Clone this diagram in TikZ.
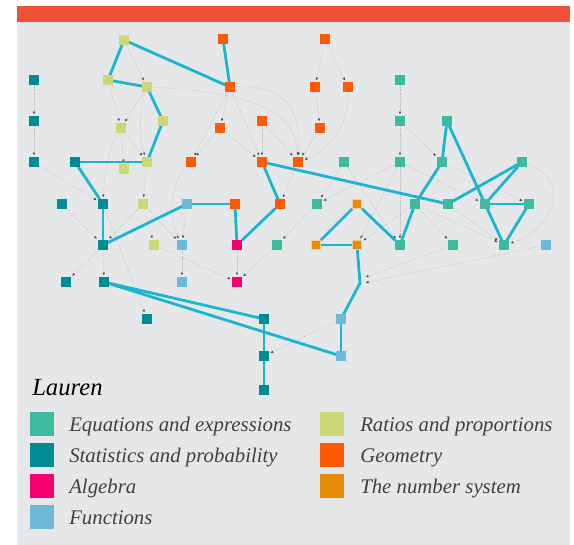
\documentclass[tikz,border=0pt]{standalone}
\usepackage{fontspec}
\setmainfont{Liberation Serif}
\usetikzlibrary{arrows.meta}

\definecolor{bgGrey}{HTML}{E6E7E8}
\definecolor{topRed}{HTML}{F04F38}
\definecolor{eqCol}{HTML}{3DBBA0}
\definecolor{statCol}{HTML}{008C93}
\definecolor{algCol}{HTML}{F5006E}
\definecolor{funCol}{HTML}{6CBAD7}
\definecolor{ratCol}{HTML}{CDD774}
\definecolor{geoCol}{HTML}{FF5A00}
\definecolor{numCol}{HTML}{E68B0C}
\definecolor{pathCol}{HTML}{1BB5D3}

\pgfdeclarelayer{back}
\pgfdeclarelayer{edges}
\pgfsetlayers{back,edges,main}

\begin{document}
\begin{tikzpicture}[x=0.75pt, y=-0.75pt,
    topic/.style={rectangle, inner sep=0pt, minimum size=6.8pt},
    eq/.style={topic, fill=eqCol},
    stat/.style={topic, fill=statCol},
    alg/.style={topic, fill=algCol},
    fun/.style={topic, fill=funCol},
    rat/.style={topic, fill=ratCol},
    geo/.style={topic, fill=geoCol},
    num/.style={topic, fill=numCol, draw=numCol!45!white, line width=0.5pt},
    dep/.style={densely dotted, line width=0.45pt, draw=black!28,
        -{Latex[length=2.2pt, width=2pt, color=black!70]}, shorten >=1.3pt},
    link/.style={line width=2.1pt, draw=pathCol},
    key/.style={rectangle, inner sep=0pt, minimum size=18pt},
    keytext/.style={anchor=base west, inner sep=0pt, text=black!75,
        font=\itshape\fontsize{15.6}{18}\selectfont}]
    \useasboundingbox (0,0) rectangle (574,545);

    % Ratios and proportions
    \node[rat] (r1) at (124,40) {};
    \node[rat] (r2) at (108,80) {};
    \node[rat] (r3) at (147,87) {};
    \node[rat] (r4) at (121,128) {};
    \node[rat] (r5) at (163,121) {};
    \node[rat] (r6) at (147,162) {};
    \node[rat] (r7) at (124,169) {};
    \node[rat] (r8) at (143,204) {};
    \node[rat] (r9) at (154,245) {};

    % Statistics and probability
    \node[stat] (s1) at (34,80) {};
    \node[stat] (s2) at (34,121) {};
    \node[stat] (s3) at (34,162) {};
    \node[stat] (s4) at (75,162) {};
    \node[stat] (s5) at (62,204) {};
    \node[stat] (s6) at (103,204) {};
    \node[stat] (s7) at (103,245) {};
    \node[stat] (s8) at (66,282) {};
    \node[stat] (s9) at (104,282) {};
    \node[stat] (s10) at (147,319) {};
    \node[stat] (s11) at (264,319) {};
    \node[stat] (s12) at (264,356) {};
    \node[stat] (s13) at (264,390) {};

    % Geometry
    \node[geo] (g1) at (223,39) {};
    \node[geo] (g2) at (325,39) {};
    \node[geo] (g3) at (230,87) {};
    \node[geo] (g4) at (315,87) {};
    \node[geo] (g5) at (348,87) {};
    \node[geo] (g6) at (220,128) {};
    \node[geo] (g7) at (262,121) {};
    \node[geo] (g8) at (320,128) {};
    \node[geo] (g9) at (191,162) {};
    \node[geo] (g10) at (262,162) {};
    \node[geo] (g11) at (298,162) {};
    \node[geo] (g12) at (235,204) {};
    \node[geo] (g13) at (280,204) {};

    % Functions
    \node[fun] (f1) at (187,204) {};
    \node[fun] (f2) at (182,245) {};
    \node[fun] (f3) at (182,282) {};
    \node[fun] (f4) at (341,319) {};
    \node[fun] (f5) at (341,356) {};
    \node[fun] (f6) at (546,245) {};

    % Algebra
    \node[alg] (a1) at (237,245) {};
    \node[alg] (a2) at (237,282) {};

    % Equations and expressions
    \node[eq] (e1) at (400,80) {};
    \node[eq] (e2) at (400,121) {};
    \node[eq] (e3) at (447,121) {};
    \node[eq] (e4) at (344,162) {};
    \node[eq] (e5) at (400,162) {};
    \node[eq] (e6) at (442,162) {};
    \node[eq] (e7) at (522,162) {};
    \node[eq] (e8) at (317,204) {};
    \node[eq] (e9) at (415,204) {};
    \node[eq] (e10) at (448,204) {};
    \node[eq] (e11) at (485,204) {};
    \node[eq] (e12) at (529,204) {};
    \node[eq] (e13) at (277,245) {};
    \node[eq] (e14) at (400,245) {};
    \node[eq] (e15) at (453,245) {};
    \node[eq] (e16) at (504,245) {};

    % The number system
    \node[num] (n1) at (357,204) {};
    \node[num] (n2) at (316,245) {};
    \node[num] (n3) at (357,245) {};
    \coordinate (x1) at (360,283);

    \begin{pgfonlayer}{back}
        \fill[white] (0,0) rectangle (574,545);
        \fill[bgGrey] (17,22) rectangle (570,545);
        \fill[topRed] (17,6) rectangle (570,22);
    \end{pgfonlayer}

    \begin{pgfonlayer}{edges}
        % prerequisites
        \draw[dep] (s1) -- (s2);
        \draw[dep] (s2) -- (s3);
        \draw[dep] (s3) -- (s6);
        \draw[dep] (r4) .. controls (108,150) and (104,178) .. (s6);
        \draw[dep] (s5) -- (s7);
        \draw[dep] (r8) -- (s7);
        \draw[dep] (s6) -- (s10);
        \draw[dep] (s7) -- (s8);
        \draw[dep] (s7) -- (s9);
        \draw[dep] (r1) -- (r3);
        \draw[dep] (r2) -- (r4);
        \draw[dep] (r3) -- (r4);
        \draw[dep] (r3) .. controls (139,108) and (139,138) .. (r6);
        \draw[dep] (r4) -- (r6);
        \draw[dep] (r4) -- (r7);
        \draw[dep] (r6) -- (r8);
        \draw[dep] (r8) -- (r9);
        \draw[dep] (r8) -- (f2);
        \draw[dep] (r9) -- (a2);
        \draw[dep] (r3) .. controls (250,92) and (296,110) .. (g11);
        \draw[dep] (g3) -- (g6);
        \draw[dep] (g3) -- (g9);
        \draw[dep] (g3) -- (g10);
        \draw[dep] (g3) .. controls (285,84) and (302,110) .. (g11);
        \draw[dep] (g6) -- (g9);
        \draw[dep] (g6) -- (g10);
        \draw[dep] (g7) -- (g10);
        \draw[dep] (g7) -- (g11);
        \draw[dep] (g2) -- (g4);
        \draw[dep] (g2) -- (g5);
        \draw[dep] (g4) -- (g8);
        \draw[dep] (g8) -- (g11);
        \draw[dep] (g5) .. controls (350,122) and (330,150) .. (g11);
        \draw[dep] (g11) -- (g13);
        \draw[dep] (g9) .. controls (168,185) and (170,222) .. (f2);
        \draw[dep] (f1) -- (f2);
        \draw[dep] (f2) -- (f3);
        \draw[dep] (a1) -- (a2);
        \draw[dep] (e13) -- (a2);
        \draw[dep] (f4) -- (s12);
        \draw[dep] (e1) -- (e2);
        \draw[dep] (e2) -- (e5);
        \draw[dep] (e2) -- (e6);
        \draw[dep] (e4) -- (e8);
        \draw[dep] (e4) -- (e14);
        \draw[dep] (e5) -- (e8);
        \draw[dep] (e5) -- (e14);
        \draw[dep] (e5) -- (n3);
        \draw[dep] (e5) -- (e11);
        \draw[dep] (e6) -- (e12);
        \draw[dep] (e8) -- (e13);
        \draw[dep] (e9) -- (n3);
        \draw[dep] (e9) -- (e15);
        \draw[dep] (e9) -- (e16);
        \draw[dep] (e10) -- (e16);
        \draw[dep] (e7) .. controls (575,180) and (550,232) .. (e16);
        \draw[dep] (e15) -- ([xshift=3pt, yshift=4pt]x1);
        \draw[dep] (f6) -- ([xshift=3pt]x1);

        % Lauren's path
        \draw[link] (r1) -- (r2);
        \draw[link] (r1) -- (g3);
        \draw[link] (g1) -- (g3);
        \draw[link] (r2) -- (r3);
        \draw[link] (r3) -- (r5);
        \draw[link] (r5) -- (r6);
        \draw[link] (s4) -- (r6);
        \draw[link] (s4) -- (s6);
        \draw[link] (s6) -- (s7);
        \draw[link] (s7) -- (f1);
        \draw[link] (f1) -- (g12);
        \draw[link] (g12) -- (a1);
        \draw[link] (a1) -- (g13);
        \draw[link] (g13) -- (g10);
        \draw[link] (g10) -- (e10);
        \draw[link] (e10) -- (e7);
        \draw[link] (e7) -- (e11);
        \draw[link] (e3) -- (e6);
        \draw[link] (e3) -- (e11);
        \draw[link] (e6) -- (e9);
        \draw[link] (e9) -- (e14);
        \draw[link] (e11) -- (e12);
        \draw[link] (e11) -- (e16);
        \draw[link] (e12) -- (e16);
        \draw[link] (n1) -- (e14);
        \draw[link] (n1) -- (n2);
        \draw[link] (n2) -- (n3);
        \draw[link] (n3) -- (x1) -- (f4);
        \draw[link] (f4) -- (f5);
        \draw[link] (s9) -- (s11);
        \draw[link] (s9) -- (f5);
        \draw[link] (s11) -- (s12);
        \draw[link] (s12) -- (s13);
    \end{pgfonlayer}

    % Legend
    \node[anchor=base west, inner sep=0pt, font=\itshape\fontsize{18.5}{21}\selectfont] (who) at (32,395) {Lauren};
    \node[key, fill=eqCol] (k1) at (42,424) {};
    \node[keytext] (t1) at (69,431) {Equations and expressions};
    \node[key, fill=statCol] (k2) at (42,455) {};
    \node[keytext] (t2) at (69,462) {Statistics and probability};
    \node[key, fill=algCol] (k3) at (42,486) {};
    \node[keytext] (t3) at (69,493) {Algebra};
    \node[key, fill=funCol] (k4) at (42,517) {};
    \node[keytext] (t4) at (69,524) {Functions};
    \node[key, fill=ratCol] (k5) at (332,424) {};
    \node[keytext] (t5) at (360,431) {Ratios and proportions};
    \node[key, fill=geoCol] (k6) at (332,455) {};
    \node[keytext] (t6) at (360,462) {Geometry};
    \node[key, fill=numCol] (k7) at (332,486) {};
    \node[keytext] (t7) at (360,493) {The number system};
\end{tikzpicture}
\end{document}
